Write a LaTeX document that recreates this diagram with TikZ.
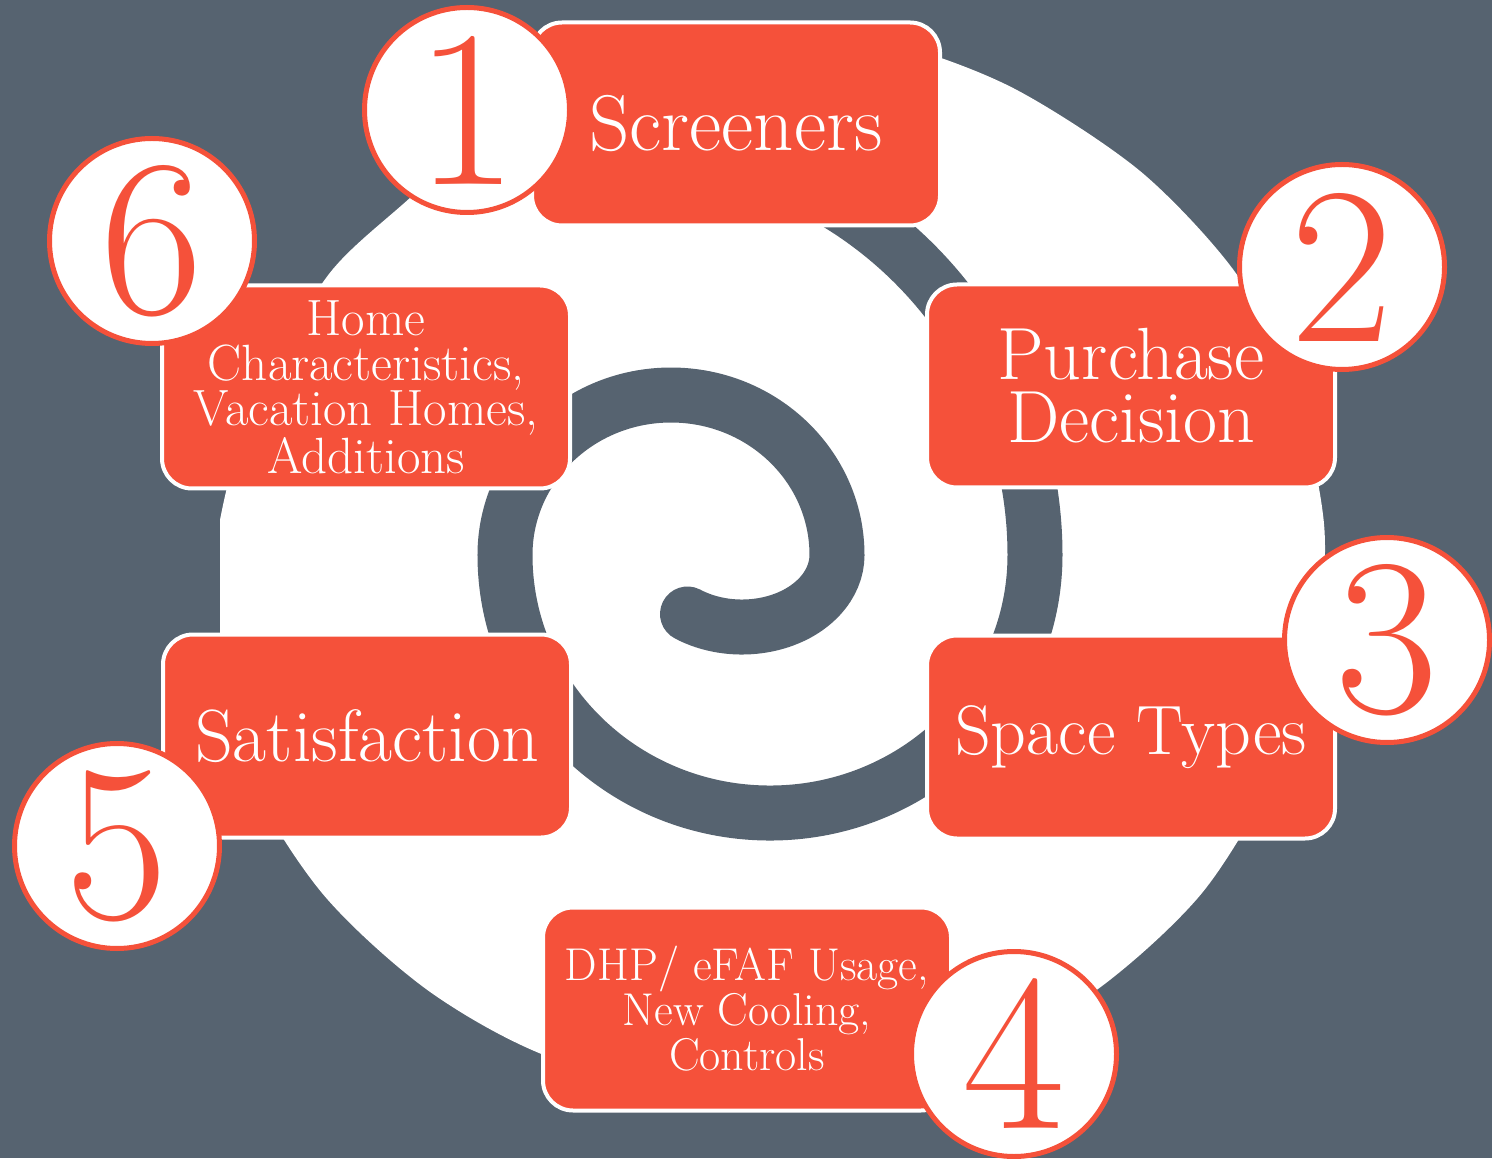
\documentclass[tikz,border=0pt]{standalone}
\usepackage{fontspec}
\definecolor{slate}{HTML}{566370}
\definecolor{orng}{HTML}{F5513A}

\begin{document}
\begin{tikzpicture}[x=0.5pt,y=-0.5pt,
blk/.style={draw=white, line width=2pt, fill=orng, rounded corners=15pt, minimum width=204pt, minimum height=101.5pt, inner sep=0pt, text=white, align=center, font=\fontsize{37}{31.5}\selectfont},
small/.style={font=\fontsize{#1}{22.5}\selectfont},
num/.style={circle, draw=orng, line width=2.5pt, fill=white, minimum size=102.5pt, inner sep=0pt, text=orng, font=\fontsize{112}{112}\selectfont}]
\fill[slate] (0,0) rectangle (1492,1158);
\begin{scope}
\clip (220,0) rectangle (1492,1158);
\fill[white] plot[smooth cycle] coordinates {(1324,524) (1293,382) (1235,272) (1140,171) (1013,88) (891,43) (762,28) (634,47) (518,101) (411,197) (329,274) (262,390) (225,496) (210,621) (244,766) (322,893) (433,994) (566,1063) (762,1098) (958,1063) (1091,994) (1202,893) (1279,765) (1316,642)};
\end{scope}
\draw[slate, line width=27.5pt, line cap=round] (687.5,614)
  arc[start angle=125, end angle=0, x radius=95, y radius=72]
  arc[start angle=0, end angle=-180, x radius=166, y radius=160]
  arc[start angle=-180, end angle=-360, x radius=265, y radius=258]
  arc[start angle=0, end angle=-95, radius=412];
\node[blk, font=\fontsize{39.5}{31.5}\selectfont] (Screen) at (736,124) {Screeners};
\node[blk] (Purchase) at (1131,386) {Purchase\\Decision};
\node[blk, font=\fontsize{35}{31.5}\selectfont] (Space) at (1131,737) {Space Types};
\node[blk, small=23] (DHP) at (747,1009) {DHP/ eFAF Usage,\\New Cooling,\\Controls};
\node[blk] (Satis) at (367,736) {Satisfaction};
\node[blk, small=25.5] (Home) at (366,387) {Home\\Characteristics,\\Vacation Homes,\\Additions};
\node[num] (n1) at (467,110) {1};
\node[num] (n2) at (1342,267) {2};
\node[num] (n3) at (1387,640) {3};
\node[num] (n4) at (1014,1054) {4};
\node[num] (n5) at (117,846) {5};
\node[num] (n6) at (152,241) {6};
\end{tikzpicture}
\end{document}
